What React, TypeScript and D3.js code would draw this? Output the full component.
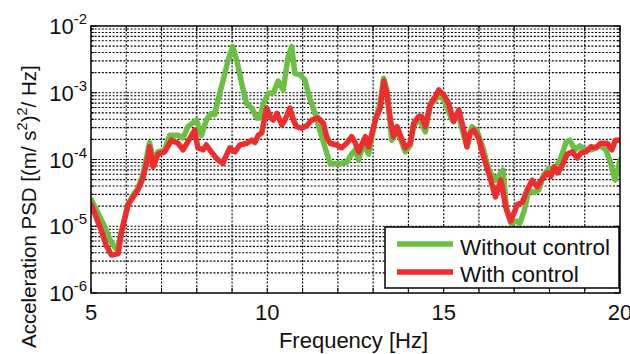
import * as d3 from "d3";

// Frequency (Hz) and PSD readings, without control
const freqWithout = [
  5.01, 5.17, 5.39, 5.54, 5.67, 5.74, 5.85, 6.05, 6.19, 6.33, 6.47, 6.62, 6.66, 6.76, 6.9, 7.09,
  7.23, 7.47, 7.61, 7.75, 7.99, 8.13, 8.27, 8.41, 8.51, 8.6, 8.75, 8.89, 9.02, 9.13, 9.27, 9.41,
  9.56, 9.7, 9.79, 9.89, 10.03, 10.17, 10.31, 10.45, 10.59, 10.69, 10.78, 10.93, 11.07, 11.16,
  11.35, 11.49, 11.63, 11.78, 12.06, 12.25, 12.39, 12.49, 12.59, 12.73, 12.87, 13.06, 13.2, 13.3,
  13.39, 13.53, 13.68, 13.91, 14.05, 14.15, 14.29, 14.48, 14.62, 14.76, 14.86, 15.0, 15.24, 15.43,
  15.57, 15.66, 15.8, 15.94, 16.13, 16.28, 16.47, 16.62, 16.68, 16.79, 16.91, 17.08, 17.16, 17.28,
  17.42, 17.56, 17.7, 17.84, 17.99, 18.13, 18.3, 18.47, 18.58, 18.72, 18.86, 19.03, 19.2, 19.43,
  19.6, 19.74, 19.86, 20.0,
];
const psdWithout = [
  2.5e-5, 1.7e-5, 9.8e-6, 6.2e-6, 4.9e-6, 4.4e-6, 7.9e-6, 2.1e-5, 2.9e-5, 3.7e-5, 5.9e-5, 1.4e-4,
  1.8e-4, 1.0e-4, 1.3e-4, 1.4e-4, 2.3e-4, 2.3e-4, 2.1e-4, 3.1e-4, 3.9e-4, 2.3e-4, 3.9e-4, 4.9e-4,
  4.7e-4, 7.8e-4, 1.55e-3, 3.1e-3, 4.9e-3, 3.1e-3, 1.4e-3, 6.9e-4, 5.9e-4, 4.2e-4, 4.2e-4, 6.9e-4,
  9.8e-4, 1.0e-3, 1.5e-3, 1.1e-3, 3.5e-3, 4.9e-3, 1.95e-3, 1.85e-3, 1.55e-3, 9.8e-4, 4.9e-4,
  2.75e-4, 1.55e-4, 8.7e-5, 8.7e-5, 9.1e-5, 1.2e-4, 1.4e-4, 9.8e-5, 1.8e-4, 1.2e-4, 3.9e-4, 7.1e-4,
  1.65e-3, 1.1e-3, 1.95e-4, 2.75e-4, 1.3e-4, 1.6e-4, 3.1e-4, 4.2e-4, 2.6e-4, 6.6e-4, 7.8e-4, 9.3e-4,
  7.8e-4, 3.9e-4, 4.4e-4, 2.3e-4, 1.55e-4, 3.1e-4, 2.75e-4, 1.4e-4, 6.9e-5, 4.9e-5, 6.3e-5, 6.9e-5,
  1.7e-5, 1.1e-5, 1.2e-5, 1.1e-5, 1.7e-5, 3.5e-5, 3.2e-5, 3.5e-5, 5.9e-5, 7.4e-5, 6.9e-5, 9.8e-5,
  1.8e-4, 1.95e-4, 1.4e-4, 1.6e-4, 1.4e-4, 1.4e-4, 1.6e-4, 1.4e-4, 8.7e-5, 4.9e-5, 9.8e-5,
];

// Frequency (Hz) and PSD readings, with control
const freqWith = [
  5.01, 5.29, 5.43, 5.58, 5.77, 5.86, 6.05, 6.33, 6.47, 6.62, 6.66, 6.76, 6.9, 7.09, 7.28, 7.47,
  7.61, 7.75, 7.94, 8.03, 8.18, 8.27, 8.41, 8.6, 8.74, 8.8, 8.94, 9.08, 9.22, 9.41, 9.56, 9.65,
  9.74, 9.84, 9.98, 10.08, 10.17, 10.27, 10.41, 10.5, 10.64, 10.74, 10.83, 10.97, 11.12, 11.26,
  11.44, 11.59, 11.68, 11.78, 11.97, 12.11, 12.25, 12.39, 12.49, 12.59, 12.78, 12.87, 13.06, 13.2,
  13.3, 13.39, 13.49, 13.58, 13.68, 13.77, 13.91, 14.05, 14.15, 14.29, 14.38, 14.48, 14.62, 14.76,
  14.86, 15.0, 15.14, 15.28, 15.43, 15.57, 15.66, 15.75, 15.85, 15.99, 16.13, 16.28, 16.47, 16.62,
  16.76, 16.9, 17.09, 17.23, 17.37, 17.51, 17.65, 17.8, 17.94, 18.04, 18.13, 18.23, 18.35, 18.5,
  18.64, 18.79, 18.89, 19.03, 19.17, 19.31, 19.45, 19.63, 19.77, 19.87, 20.0,
];
const psdWith = [
  2.1e-5, 8.7e-6, 5.2e-6, 3.7e-6, 3.9e-6, 7.9e-6, 2.1e-5, 3.5e-5, 5.2e-5, 1.1e-4, 1.55e-4, 7.8e-5,
  1.2e-4, 1.3e-4, 1.95e-4, 1.75e-4, 1.4e-4, 1.85e-4, 2.75e-4, 1.5e-4, 1.4e-4, 1.65e-4, 1.3e-4,
  9.8e-5, 8.7e-5, 1.05e-4, 1.5e-4, 1.3e-4, 1.65e-4, 1.75e-4, 1.95e-4, 1.8e-4, 2.3e-4, 2.5e-4,
  5.9e-4, 4.4e-4, 3.9e-4, 4.9e-4, 3.3e-4, 3.9e-4, 5.9e-4, 3.9e-4, 3.1e-4, 2.95e-4, 3.2e-4, 3.9e-4,
  4.2e-4, 3.5e-4, 2.2e-4, 1.75e-4, 1.65e-4, 1.5e-4, 1.75e-4, 2.2e-4, 1.8e-4, 1.3e-4, 2.2e-4,
  1.55e-4, 3.9e-4, 5.9e-4, 1.5e-3, 9.8e-4, 3.9e-4, 2.2e-4, 3.1e-4, 2.3e-4, 1.5e-4, 1.75e-4, 3.5e-4,
  4.4e-4, 4.4e-4, 3.1e-4, 6.6e-4, 8.7e-4, 1.1e-3, 9.3e-4, 6.9e-4, 3.7e-4, 5.5e-4, 2.75e-4, 1.55e-4,
  2.5e-4, 2.75e-4, 2.1e-4, 1.1e-4, 6.2e-5, 2.75e-5, 4.9e-5, 1.95e-5, 1.2e-5, 2.1e-5, 2.3e-5,
  3.5e-5, 4.9e-5, 3.9e-5, 5.2e-5, 6.3e-5, 5.6e-5, 7.8e-5, 6.3e-5, 7.9e-5, 1.2e-4, 1.3e-4, 1.05e-4,
  1.25e-4, 1.3e-4, 1.55e-4, 1.5e-4, 1.75e-4, 1.75e-4, 1.4e-4, 1.95e-4, 1.95e-4,
];

const xTicks = [5, 10, 15, 20];
const yExponents = [-6, -5, -4, -3, -2];
const seriesNames = ["Without control", "With control"];
const seriesColors = ["#6cbf45", "#ee2e2e"];

const W = 630;
const H = 354;
const left = 91;
const right = 620;
const top = 26;
const bottom = 293;
const font = "'Liberation Sans', Arial, sans-serif";

export default function App() {
  const x = d3.scaleLinear().domain([5, 20]).range([left, right]);
  const y = d3.scaleLog().domain([1e-6, 1e-2]).range([bottom, top]);

  const line = d3
    .line<[number, number]>()
    .x((d) => x(d[0]))
    .y((d) => y(d[1]));

  const series = [
    freqWithout.map((f, i) => [f, psdWithout[i]] as [number, number]),
    freqWith.map((f, i) => [f, psdWith[i]] as [number, number]),
  ];

  // log grid: every 1..9 step in each decade
  const yGrid: number[] = [];
  for (let e = -6; e < -2; e++) {
    for (let m = 1; m < 10; m++) yGrid.push(m * Math.pow(10, e));
  }
  yGrid.push(1e-2);
  const xGrid = d3.range(5, 21);
  const dots = "2,1.6";

  return (
    <svg
      width={W}
      height={H}
      style={{ position: "absolute", left: 0, top: 0, background: "#fff" }}
      fontFamily={font}
    >
      <defs>
        <clipPath id="plot">
          <rect x={left} y={top} width={right - left} height={bottom - top} />
        </clipPath>
      </defs>

      {/* grid */}
      <g stroke="#000" strokeWidth={1.1} strokeDasharray={dots}>
        {xGrid.slice(1, -1).map((f) => (
          <line key={"gx" + f} x1={x(f)} x2={x(f)} y1={top} y2={bottom} />
        ))}
        {yGrid.slice(1, -1).map((v, i) => (
          <line key={"gy" + i} x1={left} x2={right} y1={y(v)} y2={y(v)} />
        ))}
      </g>

      {/* ticks on all sides */}
      <g stroke="#000" strokeWidth={1}>
        {xGrid.map((f) => (
          <g key={"tx" + f}>
            <line x1={x(f)} x2={x(f)} y1={bottom} y2={bottom - 5} />
            <line x1={x(f)} x2={x(f)} y1={top} y2={top + 5} />
          </g>
        ))}
        {yGrid.map((v, i) => {
          const len = i % 9 === 0 ? 6 : 3;
          return (
            <g key={"ty" + i}>
              <line x1={left} x2={left + len} y1={y(v)} y2={y(v)} />
              <line x1={right} x2={right - len} y1={y(v)} y2={y(v)} />
            </g>
          );
        })}
      </g>

      {/* curves */}
      <g clipPath="url(#plot)" fill="none" strokeWidth={5.5} strokeLinejoin="round" strokeLinecap="round">
        {series.map((s, i) => (
          <path key={i} d={line(s) ?? ""} stroke={seriesColors[i]} />
        ))}
      </g>

      <rect
        x={left}
        y={top}
        width={right - left}
        height={bottom - top}
        fill="none"
        stroke="#000"
        strokeWidth={1.5}
      />

      {/* y tick labels */}
      {yExponents.map((e) => (
        <text key={"yl" + e} x={87} y={y(Math.pow(10, e)) + 8} textAnchor="end" fontSize={22} fill="#111">
          10
          <tspan dy={-10} fontSize={15}>
            {e}
          </tspan>
        </text>
      ))}

      {/* x tick labels */}
      {xTicks.map((t) => (
        <text key={"xl" + t} x={x(t)} y={320} textAnchor="middle" fontSize={22} fill="#111">
          {t}
        </text>
      ))}

      <text x={(left + right) / 2 - 2} y={348} textAnchor="middle" fontSize={22} fill="#111">
        Frequency [Hz]
      </text>

      <text transform="translate(36,348) rotate(-90)" fontSize={20.5} fill="#111">
        Acceleration PSD [(m/ s
        <tspan dy={-9} fontSize={14.5}>2</tspan>
        <tspan dy={9}>)</tspan>
        <tspan dy={-9} fontSize={14.5}>2</tspan>
        <tspan dy={9}>/ Hz]</tspan>
      </text>

      {/* legend */}
      <g>
        <rect x={385} y={227} width={234} height={61} fill="#fff" stroke="#000" strokeWidth={1.5} />
        {seriesNames.map((name, i) => (
          <g key={name}>
            <line
              x1={397}
              x2={453}
              y1={244 + i * 28}
              y2={244 + i * 28}
              stroke={seriesColors[i]}
              strokeWidth={5.5}
            />
            <text x={460} y={255 + i * 27} fontSize={22.5} fill="#111">
              {name}
            </text>
          </g>
        ))}
      </g>
    </svg>
  );
}
